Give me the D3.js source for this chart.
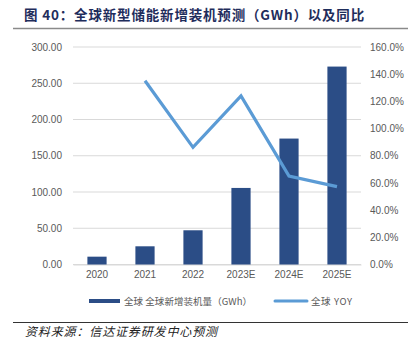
<!DOCTYPE html>
<html><head><meta charset="utf-8">
<script src="https://cdn.jsdelivr.net/npm/d3@7"></script>
<style>body{margin:0;background:#fff;}svg{display:block;}</style>
</head><body>
<script>
const categories = ["2020","2021","2022","2023E","2024E","2025E"];
const capacity = [10.8, 25.1, 47.2, 105.6, 173.7, 273.0];
const yoy = [null, 135.2, 86.2, 124.0, 65.1, 57.3];
const leftTicks = [0,50,100,150,200,250,300];
const rightTicks = [0,20,40,60,80,100,120,140,160];
const titleText = "图 40：全球新型储能新增装机预测（GWh）以及同比";
const sourceText = "资料来源：信达证券研发中心预测";
const legendBar = "全球 全球新增装机量（GWh）";
const legendLine = "全球 YOY";

(function () {
const W = 411, H = 351;
const svg = d3.select("body").append("svg").attr("width", W).attr("height", H);
const pl = 73, pr = 361, pt = 47, pb = 264.5;

const x = d3.scaleBand().domain(categories).range([pl, pr]).paddingInner(0.6).paddingOuter(0.3);
const y = d3.scaleLinear().domain([0, 300]).range([pb, pt]);
const y2 = d3.scaleLinear().domain([0, 160]).range([pb, pt]);

// title
svg.append("text").attr("x", 24).attr("y", 20).text(titleText)
  .attr("font-family", "'Noto Sans CJK SC', sans-serif").attr("font-weight", "bold")
  .attr("font-size", 13.5).attr("letter-spacing", 0.8).attr("fill", "#1f2d5c")
  .attr("textLength", 341).attr("lengthAdjust", "spacing");
svg.append("line").attr("x1", 13).attr("x2", 408).attr("y1", 28.5).attr("y2", 28.5)
  .attr("stroke", "#8a8a8a").attr("stroke-width", 1.5);

// gridlines
svg.append("g").selectAll("line").data(leftTicks).join("line")
  .attr("x1", pl).attr("x2", pr).attr("y1", d => y(d)).attr("y2", d => y(d))
  .attr("stroke", "#d9d9d9").attr("stroke-width", 1);

// left axis
const gl = svg.append("g").attr("transform", `translate(${pl},0)`)
  .call(d3.axisLeft(y).tickValues(leftTicks).tickFormat(d3.format(".2f")).tickSize(0).tickPadding(11));
gl.select(".domain").remove();
gl.selectAll("text").attr("font-family", "Arial, 'Liberation Sans', sans-serif").attr("font-size", 10).attr("fill", "#595959");

// right axis
const gr = svg.append("g").attr("transform", `translate(${pr},0)`)
  .call(d3.axisRight(y2).tickValues(rightTicks).tickFormat(d => d.toFixed(1) + "%").tickSize(0).tickPadding(9));
gr.select(".domain").remove();
gr.selectAll("text").attr("font-family", "Arial, 'Liberation Sans', sans-serif").attr("font-size", 10).attr("fill", "#595959");

// x axis
const gx = svg.append("g").attr("transform", `translate(0,${pb})`)
  .call(d3.axisBottom(x).tickSize(0).tickPadding(6));
gx.select(".domain").attr("stroke", "#d9d9d9");
gx.selectAll("text").attr("font-family", "Arial, 'Liberation Sans', sans-serif").attr("font-size", 10).attr("fill", "#595959");

// bars
svg.append("g").selectAll("rect").data(capacity).join("rect")
  .attr("x", (d, i) => x(categories[i])).attr("width", x.bandwidth())
  .attr("y", d => y(d)).attr("height", d => y(0) - y(d))
  .attr("fill", "#2b4d86");

// line
const line = d3.line().defined(d => d != null)
  .x((d, i) => x(categories[i]) + x.bandwidth() / 2).y(d => y2(d));
svg.append("path").datum(yoy).attr("d", line).attr("fill", "none")
  .attr("stroke", "#5b9bd5").attr("stroke-width", 3.2).attr("stroke-linejoin", "miter");

// legend
const ly = 301;
svg.append("rect").attr("x", 89).attr("y", ly - 2).attr("width", 31).attr("height", 4).attr("fill", "#2b4d86");
svg.append("text").attr("x", 124).attr("y", ly + 3.5).text(legendBar)
  .attr("font-family", "'Noto Sans CJK SC', sans-serif").attr("font-size", 9.5).attr("fill", "#595959")
  .attr("textLength", 128).attr("lengthAdjust", "spacing");
svg.append("line").attr("x1", 275).attr("x2", 307).attr("y1", ly).attr("y2", ly)
  .attr("stroke", "#5b9bd5").attr("stroke-width", 3).attr("stroke-linecap", "round");
svg.append("text").attr("x", 311).attr("y", ly + 3.5).text(legendLine)
  .attr("font-family", "'Noto Sans CJK SC', sans-serif").attr("font-size", 9.5).attr("fill", "#595959")
  .attr("textLength", 41).attr("lengthAdjust", "spacing");

// footer
svg.append("line").attr("x1", 13).attr("x2", 408).attr("y1", 322.5).attr("y2", 322.5)
  .attr("stroke", "#333").attr("stroke-width", 1);
svg.append("text").attr("x", 25).attr("y", 336).text(sourceText)
  .attr("font-family", "'Noto Sans CJK SC', sans-serif").attr("font-size", 12).attr("font-style", "italic")
  .attr("fill", "#222").attr("textLength", 192).attr("lengthAdjust", "spacing");
})();
</script>
</body></html>
